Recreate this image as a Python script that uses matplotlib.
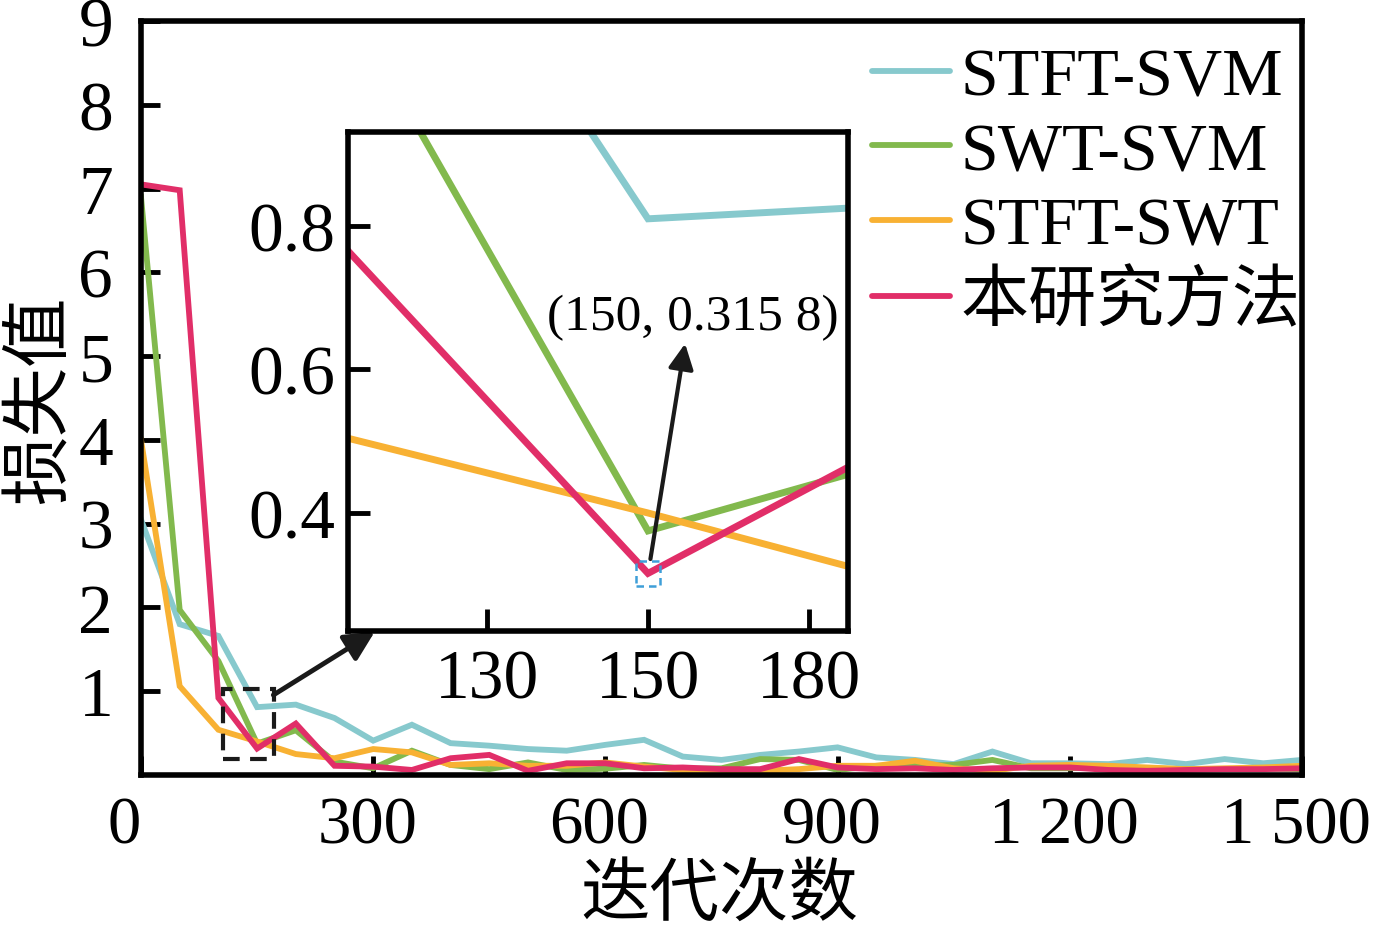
import matplotlib
matplotlib.use("Agg")
import matplotlib.pyplot as plt
from matplotlib.patches import Rectangle
from matplotlib.transforms import ScaledTranslation

plt.rcParams['font.family'] = ['Liberation Serif', 'Noto Sans CJK SC', 'DejaVu Sans']

iterations = [0, 50, 100, 150, 200, 250, 300, 350, 400, 450, 500, 550, 600, 650, 700,
              750, 800, 850, 900, 950, 1000, 1050, 1100, 1150, 1200, 1250, 1300, 1350,
              1400, 1450, 1500]

stft_svm = [3.05, 1.80, 1.66, 0.81, 0.84, 0.68, 0.41, 0.60, 0.38, 0.35, 0.31, 0.29, 0.36,
            0.42, 0.22, 0.18, 0.24, 0.28, 0.33, 0.21, 0.18, 0.13, 0.28, 0.14, 0.14, 0.13,
            0.18, 0.13, 0.19, 0.14, 0.18]
swt_svm = [6.90, 1.97, 1.36, 0.375, 0.534, 0.16, 0.08, 0.29, 0.12, 0.07, 0.15, 0.06, 0.075,
           0.12, 0.075, 0.08, 0.19, 0.18, 0.06, 0.11, 0.11, 0.12, 0.18, 0.08, 0.08, 0.10,
           0.08, 0.07, 0.07, 0.08, 0.07]
stft_swt = [4.00, 1.06, 0.54, 0.40, 0.25, 0.20, 0.31, 0.27, 0.12, 0.14, 0.11, 0.11, 0.15,
            0.10, 0.06, 0.06, 0.05, 0.07, 0.11, 0.11, 0.17, 0.08, 0.05, 0.11, 0.12, 0.11,
            0.09, 0.07, 0.08, 0.09, 0.11]
ours = [7.05, 6.98, 0.92, 0.3158, 0.614, 0.11, 0.10, 0.06, 0.20, 0.24, 0.05, 0.14, 0.14,
        0.08, 0.09, 0.07, 0.07, 0.19, 0.09, 0.07, 0.08, 0.06, 0.08, 0.09, 0.09, 0.06,
        0.05, 0.06, 0.07, 0.07, 0.08]

series_names = ['STFT-SVM', 'SWT-SVM', 'STFT-SWT', '本研究方法']
series_colors = ['#87C9CD', '#82B94D', '#F8B133', '#E12E68']
series_values = [stft_svm, swt_svm, stft_swt, ours]

x_ticks = [0, 300, 600, 900, 1200, 1500]
x_tick_labels = ['0', '300', '600', '900', '1 200', '1 500']
y_ticks = [1, 2, 3, 4, 5, 6, 7, 8, 9]

inset_x_ticks = [130, 150, 170]
inset_x_tick_labels = ['130', '150', '180']
inset_y_ticks = [0.4, 0.6, 0.8]
inset_y_tick_labels = ['0.4', '0.6', '0.8']

min_point = (150, 0.3158)
min_label = '(150, 0.315 8)'

W, H = 1375, 928
fig = plt.figure(figsize=(W / 100, H / 100), dpi=100)

ax = fig.add_axes([141 / W, 1 - 776 / H, (1302 - 141) / W, (776 - 22) / H])
for name, col, vals in zip(series_names, series_colors, series_values):
    ax.plot(iterations, vals, color=col, lw=4.2, label=name, solid_joinstyle='miter')
ax.set_xlim(0, 1500)
ax.set_ylim(0, 9)
ax.set_xticks(x_ticks)
ax.set_xticklabels(x_tick_labels)
ax.set_yticks(y_ticks)
ax.tick_params(direction='in', length=14, width=3.5, labelsize=50)
ax.tick_params(axis='x', pad=15, labelsize=48)
ax.tick_params(axis='y', pad=20)
xlabels = ax.get_xticklabels()
xlabels[0].set_horizontalalignment('right')
shift = ScaledTranslation(-6 / 100, 0, fig.dpi_scale_trans)
for lab in xlabels[1:]:
    lab.set_transform(lab.get_transform() + shift)
for s in ax.spines.values():
    s.set_linewidth(4)

# dashed zoom box
ax.add_patch(Rectangle((106, 0.19), 66, 0.84, fill=False, ec='#1a1a1a', lw=3,
                       ls=(0, (4, 2.5)), zorder=5))
ax.annotate('', xy=(302, 1.71), xytext=(171, 0.955),
            arrowprops=dict(arrowstyle='-|>', color='#1a1a1a', lw=3.5, mutation_scale=45,
                            shrinkA=0, shrinkB=0), zorder=6)

leg = ax.legend(loc='upper left', bbox_to_anchor=(872 / W, 1 - 48 / H),
                bbox_transform=fig.transFigure, frameon=False, fontsize=49,
                borderpad=0, borderaxespad=0, handlelength=1.15, handletextpad=0.15,
                labelspacing=0.19)
for line in leg.get_lines():
    line.set_linewidth(4.2)
    line.set_solid_capstyle('round')

fig.text(42 / W, 1 - 400 / H, '损失值', rotation=90, ha='center', va='center', fontsize=50)
fig.text(719 / W, 1 - 897 / H, '迭代次数', ha='center', va='center', fontsize=50)

# inset
axi = fig.add_axes([348 / W, 1 - 632 / H, (848 - 348) / W, (632 - 133) / H])
axi.set_facecolor('white')
for name, col, vals in zip(series_names, series_colors, series_values):
    axi.plot(iterations, vals, color=col, lw=5, solid_joinstyle='miter')
axi.set_xlim(112.8, 174.8)
axi.set_ylim(0.2355, 0.931)
axi.set_xticks(inset_x_ticks)
axi.set_xticklabels(inset_x_tick_labels)
axi.set_yticks(inset_y_ticks)
axi.set_yticklabels(inset_y_tick_labels)
axi.tick_params(direction='in', length=16, width=3.5, labelsize=50)
axi.tick_params(axis='x', pad=13)
axi.tick_params(axis='y', pad=9)
for s in axi.spines.values():
    s.set_linewidth(4)

axi.add_patch(Rectangle((min_point[0] - 1.5, min_point[1] - 0.017), 3.0, 0.034, fill=False,
                        ec='#3E9FD8', lw=1.8, ls=(0, (3, 2)), zorder=6))
axi.annotate('', xy=(154.6, 0.636), xytext=(min_point[0] + 0.3, min_point[1] + 0.02),
             arrowprops=dict(arrowstyle='-|>', color='#1a1a1a', lw=3, mutation_scale=38,
                             shrinkA=0, shrinkB=0), zorder=7)
axi.text(155.5, 0.673, min_label, ha='center', va='center', fontsize=37, zorder=8)

fig.savefig('out.png', dpi=100)
